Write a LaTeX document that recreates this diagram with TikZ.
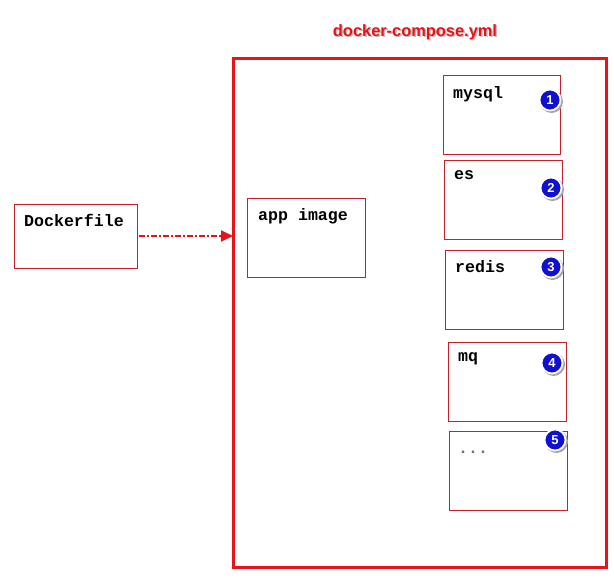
\documentclass[tikz,border=0pt]{standalone}
\usepackage{fontspec}
\setmainfont{Liberation Sans}
\setmonofont{Liberation Mono}
\usetikzlibrary{arrows.meta}
\definecolor{boxred}{HTML}{C8202A}
\definecolor{bigred}{HTML}{E8121A}
\definecolor{numblue}{HTML}{1010D0}
\tikzset{
  svc/.style={draw=boxred, line width=1pt, fill=white},
  lbl/.style={anchor=north west, inner sep=0pt, font=\ttfamily\bfseries\fontsize{16.6}{17}\selectfont},
  num/.style={circle, fill=numblue, draw=white, line width=1.8pt, minimum size=21pt, inner sep=0pt, text=white, font=\bfseries\fontsize{13}{13}\selectfont},
  numshadow/.style={circle, fill=black!35, minimum size=23pt, inner sep=0pt},
}
\begin{document}
\begin{tikzpicture}[x=1pt,y=-1pt]
\useasboundingbox (0,0) rectangle (614,584);
\fill[white] (0,0) rectangle (614,584);
% title
\node[text=black!25, font=\bfseries\fontsize{16.4}{16}\selectfont] at (416.5,33.5) {docker-compose.yml};
\node (title) [text=bigred, font=\bfseries\fontsize{16.4}{16}\selectfont] at (415,32) {docker-compose.yml};
% big compose box
\draw[draw=bigred, line width=3pt] (233,58) rectangle (606,567);
\coordinate (bigleft) at (233,236);
% Dockerfile
\draw[svc] (14,204) rectangle (137,268);
\node (dockerfile) [lbl] at (24,214) {Dockerfile};
\coordinate (dfright) at (139,236);
% app image
\draw[svc] (247,198) rectangle (365,277);
\node (app) [lbl] at (258,208) {app image};
% services
\draw[svc] (443,75) rectangle (560,154);
\node (mysql) [lbl] at (453,86) {mysql};
\draw[svc] (444,160) rectangle (562,239);
\node (es) [lbl] at (454,170) {es};
\draw[svc] (445,250) rectangle (563,329);
\node (redis) [lbl] at (455,260) {redis};
\draw[svc] (448,342) rectangle (566,421);
\node (mq) [lbl] at (458,352) {mq};
\draw[svc] (449,431) rectangle (567,510);
\node (dots) [lbl, anchor=base west, text=black!55] at (458,453) {...};
% numbers
\foreach \x/\y/\n in {550/100/1, 551/188/2, 551/267/3, 552/363/4, 555/440/5}{
  \node[numshadow] at (\x+1.5,\y+1.5) {};
  \node[num] (n\n) at (\x,\y) {\n};
}
% arrow
\draw[draw=bigred, line width=2pt, dash pattern=on 6pt off 2pt on 2pt off 2pt, -{Triangle[length=12pt,width=11pt]}] (dfright) -- (bigleft);
\end{tikzpicture}
\end{document}
